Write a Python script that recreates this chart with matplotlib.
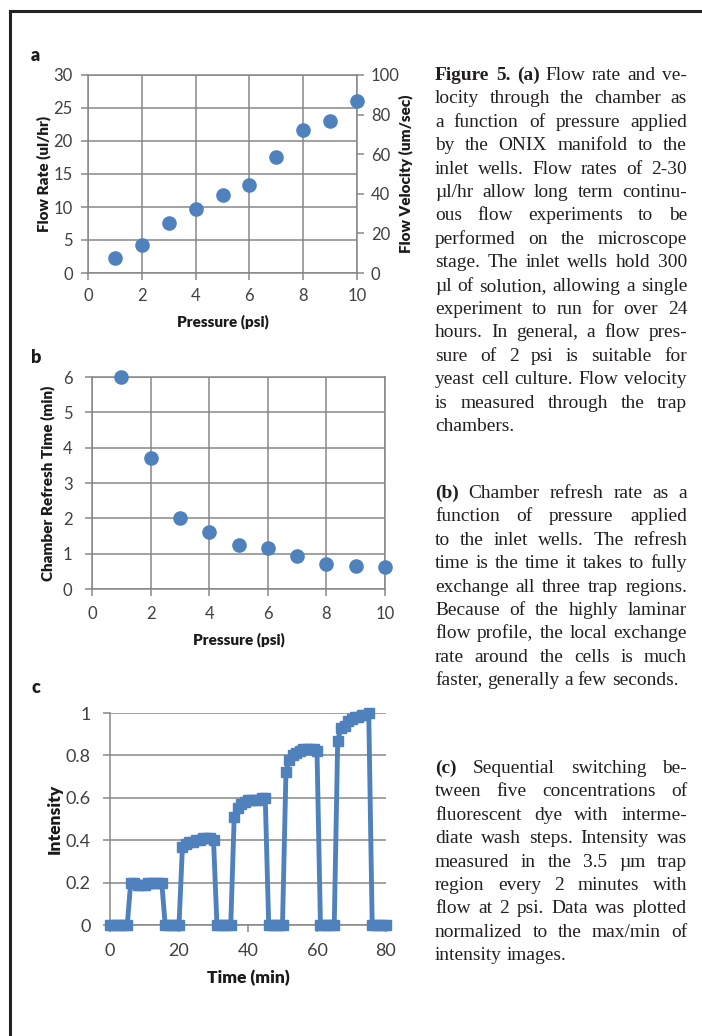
import matplotlib
matplotlib.use("Agg")
import matplotlib.pyplot as plt
from matplotlib.lines import Line2D

# Panel a / b data
pressure = [1, 2, 3, 4, 5, 6, 7, 8, 9, 10]
flow_rate = [2.2, 4.3, 7.6, 9.7, 11.8, 13.3, 17.6, 21.7, 23.1, 26.0]
refresh_time = [6.0, 3.7, 2.0, 1.6, 1.25, 1.17, 0.93, 0.70, 0.66, 0.62]

# Panel c data (one reading per minute)
time_min = list(range(0, 81))
intensity = [0, 0, 0, 0, 0, 0,
             0.20, 0.20, 0.19, 0.19, 0.19, 0.20, 0.20, 0.20, 0.20, 0.20,
             0, 0, 0, 0, 0,
             0.37, 0.38, 0.39, 0.39, 0.40, 0.40, 0.41, 0.41, 0.41, 0.40,
             0, 0, 0, 0, 0,
             0.51, 0.55, 0.57, 0.58, 0.59, 0.59, 0.59, 0.59, 0.60, 0.60,
             0, 0, 0, 0, 0,
             0.72, 0.78, 0.80, 0.81, 0.82, 0.83, 0.83, 0.83, 0.83, 0.82,
             0, 0, 0, 0, 0,
             0.87, 0.93, 0.94, 0.96, 0.97, 0.98, 0.98, 0.99, 0.99, 1.00,
             0, 0, 0, 0, 0]

caption_a = ["Figure 5. (a) Flow rate and ve-",
             "locity through the chamber as",
             "a function of pressure applied",
             "by the ONIX manifold to the",
             "inlet wells. Flow rates of 2-30",
             "\u00b5l/hr allow long term continu-",
             "ous flow experiments to be",
             "performed on the microscope",
             "stage. The inlet wells hold 300",
             "\u00b5l of solution, allowing a single",
             "experiment to run for over 24",
             "hours. In general, a flow pres-",
             "sure of 2 psi is suitable for",
             "yeast cell culture. Flow velocity",
             "is measured through the trap",
             "chambers."]
caption_b = ["(b) Chamber refresh rate as a",
             "function of pressure applied",
             "to the inlet wells. The refresh",
             "time is the time it takes to fully",
             "exchange all three trap regions.",
             "Because of the highly laminar",
             "flow profile, the local exchange",
             "rate around the cells is much",
             "faster, generally a few seconds."]
caption_c = ["(c) Sequential switching be-",
             "tween five concentrations of",
             "fluorescent dye with interme-",
             "diate wash steps. Intensity was",
             "measured in the 3.5 \u00b5m trap",
             "region every 2 minutes with",
             "flow at 2 psi. Data was plotted",
             "normalized to the max/min of",
             "intensity images."]
bold_words = {"Figure", "5.", "(a)", "(b)", "(c)"}

W, H = 702, 1036
blue = "#4f81bd"
grid_c = "#878787"
tick_c = "#404040"
label_c = "#1a1a1a"
chart_font = "Lato"
serif_font = "Liberation Serif"

fig = plt.figure(figsize=(W / 100, H / 100), dpi=100)


def px_axes(left, top, right, bottom):
    return fig.add_axes([left / W, 1 - bottom / H, (right - left) / W, (bottom - top) / H])


def style(ax, size, xpad, ypad, grid_x=True):
    for s in ax.spines.values():
        s.set_color(grid_c)
        s.set_linewidth(1.1)
    ax.tick_params(colors=grid_c, labelcolor=tick_c, labelsize=size, length=5, width=1.1, direction="out")
    ax.tick_params(axis="x", pad=xpad)
    ax.tick_params(axis="y", pad=ypad)
    for lab in ax.get_xticklabels() + ax.get_yticklabels():
        lab.set_fontfamily(chart_font)
    ax.grid(True, axis="y", color=grid_c, linewidth=1.1)
    if grid_x:
        ax.grid(True, axis="x", color=grid_c, linewidth=1.1)
    ax.set_axisbelow(True)


def label(ax, which, text, pad, size=11):
    kw = dict(fontfamily=chart_font, fontweight="heavy", fontsize=size, color=label_c, labelpad=pad)
    if which == "x":
        ax.set_xlabel(text, **kw)
    else:
        ax.set_ylabel(text, **kw)


# ---- panel a
ax_a = px_axes(88, 75, 357, 273)
ax_a.plot(pressure, flow_rate, "o", color=blue, ms=9.5, clip_on=False, zorder=3)
ax_a.set_xlim(0, 10)
ax_a.set_ylim(0, 30)
ax_a.set_xticks(range(0, 11, 2))
ax_a.set_yticks(range(0, 31, 5))
style(ax_a, 12, 6, 6)
label(ax_a, "x", "Pressure (psi)", 7)
label(ax_a, "y", "Flow Rate (ul/hr)", 2)
ax_a2 = ax_a.twinx()
ax_a2.set_ylim(0, 100)
ax_a2.set_yticks(range(0, 101, 20))
for s in ax_a2.spines.values():
    s.set_visible(False)
ax_a2.tick_params(colors=grid_c, labelcolor=tick_c, labelsize=12, length=5, width=1.1, pad=5)
for lab in ax_a2.get_yticklabels():
    lab.set_fontfamily(chart_font)
label(ax_a2, "y", "Flow Velocity (um/sec)", -1)

# ---- panel b
ax_b = px_axes(92, 377, 385, 589)
ax_b.plot(pressure, refresh_time, "o", color=blue, ms=9.5, clip_on=False, zorder=3)
ax_b.set_xlim(0, 10)
ax_b.set_ylim(0, 6)
ax_b.set_xticks(range(0, 11, 2))
ax_b.set_yticks(range(0, 7))
style(ax_b, 12, 7, 9)
label(ax_b, "x", "Pressure (psi)", 8)
label(ax_b, "y", "Chamber Refresh Time (min)", 6)

# ---- panel c
ax_c = px_axes(110, 713, 386, 925)
ax_c.plot(time_min, intensity, "-s", color=blue, lw=3.5, ms=7, clip_on=False, zorder=3)
ax_c.set_xlim(0, 80)
ax_c.set_ylim(0, 1)
ax_c.set_xticks(range(0, 81, 20))
ax_c.set_yticks([0, 0.2, 0.4, 0.6, 0.8, 1])
ax_c.set_yticklabels(["0", "0.2", "0.4", "0.6", "0.8", "1"])
style(ax_c, 13, 8, 9, grid_x=False)
ax_c.spines["top"].set_visible(False)
ax_c.spines["right"].set_visible(False)
label(ax_c, "x", "Time (min)", 8, size=12.5)
label(ax_c, "y", "Intensity", 2, size=12.5)

# panel letters
for letter, (x, y) in zip("abc", [(31, 61), (31, 363), (31, 693)]):
    fig.text(x / W, 1 - y / H, letter, fontfamily=chart_font, fontweight="heavy", fontsize=13, color="#1a1a1a")

# frame around the figure (cut off at right and bottom)
fig.add_artist(Line2D([10 / W, 10 / W], [0, 1 - 11 / H], color="#222222", lw=2.2))
fig.add_artist(Line2D([10 / W, 1], [1 - 11 / H, 1 - 11 / H], color="#222222", lw=2.2))

# ---- justified caption text
renderer = fig.canvas.get_renderer()
x0, x1 = 435, 687


def word_width(word, weight, size):
    t = fig.text(0, 0, word, fontfamily=serif_font, fontsize=size, fontweight=weight)
    w = t.get_window_extent(renderer=renderer).width
    t.remove()
    return w


# pick the size at which the widest line just fits the column
widest = max(word_width(line, "normal", 10) for line in caption_a + caption_b + caption_c)
cap_size = 10 * (x1 - x0) / widest * 0.985
space_w = word_width("a b", "normal", cap_size) - word_width("ab", "normal", cap_size)


def draw_block(lines, y_first, step=23.4):
    for i, line in enumerate(lines):
        words = line.split(" ")
        weights = ["bold" if (i == 0 and w in bold_words) else "normal" for w in words]
        widths = [word_width(w, wt, cap_size) for w, wt in zip(words, weights)]
        last = i == len(lines) - 1
        gap = space_w if (last or len(words) < 2) else (x1 - x0 - sum(widths)) / (len(words) - 1)
        x = x0
        y = y_first + i * step
        for w, wt, wd in zip(words, weights, widths):
            fig.text(x / W, 1 - y / H, w, fontfamily=serif_font, fontsize=cap_size,
                     fontweight=wt, color="#231f20", va="baseline")
            x += wd + gap


draw_block(caption_a, 80)
draw_block(caption_b, 498)
draw_block(caption_c, 773)

fig.savefig("out.png", dpi=100)
